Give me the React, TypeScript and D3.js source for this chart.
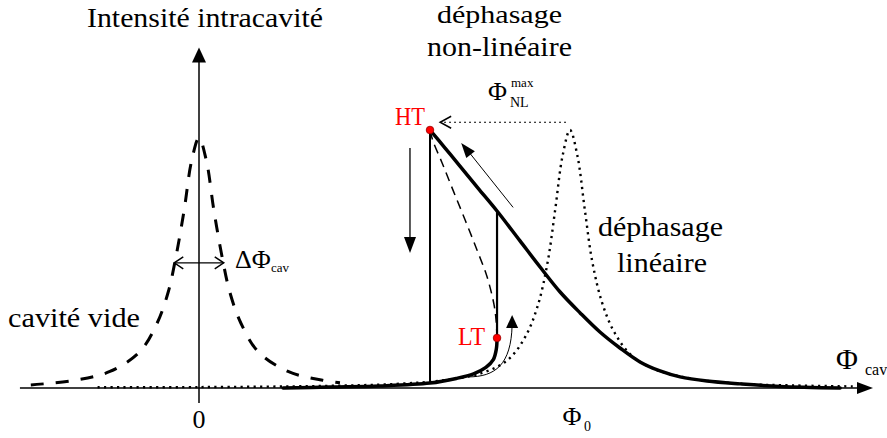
import React from 'react';
import * as d3 from 'd3';

// phase in units where the cavity half-width is ~1 and Phi0 = 15
// intensity normalised to the peak of the linear resonance
const cavityX = [-6.8, -5, -3.6, -2.4, -1.7, -1.25, -0.95, -0.6, -0.3, 0, 0.3, 0.6, 0.95, 1.25, 1.7, 2.4, 3.6, 5, 5.7];
const cavityY = [0.012, 0.03, 0.064, 0.14, 0.25, 0.37, 0.5, 0.69, 0.88, 0.97, 0.88, 0.69, 0.5, 0.37, 0.25, 0.14, 0.064, 0.03, 0.02];

const linearX = [-4.1, 0, 5, 8, 10, 11.5, 12.5, 13.2, 13.7, 14.1, 14.4, 14.7, 15, 15.3, 15.6, 15.9, 16.3, 16.8, 17.5, 18.5, 20, 22, 24, 26.5];
const linearY = [0.003, 0.0035, 0.008, 0.016, 0.031, 0.06, 0.11, 0.2, 0.32, 0.49, 0.69, 0.9, 1.0, 0.9, 0.69, 0.49, 0.33, 0.215, 0.125, 0.07, 0.035, 0.016, 0.01, 0.006];

// bistable (tilted) response
const upperX = [9.34, 9.95, 10.55, 11.28, 12.05, 12.98, 13.79, 14.6, 15.41, 16.21, 17.02, 17.83, 18.64, 19.45, 20.54, 21.88, 23.49, 25.92];
const upperY = [1.0, 0.93, 0.86, 0.775, 0.686, 0.57, 0.469, 0.372, 0.291, 0.217, 0.155, 0.101, 0.066, 0.043, 0.027, 0.016, 0.006, 0.0];
const lowerX = [3.4, 5.3, 7.3, 9.34, 10.4, 11.1, 11.6, 11.9, 12.02, 12.05];
const lowerY = [0.0, 0.004, 0.008, 0.019, 0.037, 0.055, 0.08, 0.11, 0.15, 0.194];
const unstableX = [12.05, 12.01, 11.93, 11.65, 11.24, 10.76, 10.27, 9.83, 9.45, 9.34];
const unstableY = [0.194, 0.264, 0.322, 0.43, 0.535, 0.651, 0.767, 0.872, 0.96, 1.0];

const HT = [9.34, 1.0];
const LT = [12.05, 0.194];
const jumpDownTo = 0.019;
const jumpUpTo = 0.686;
const phiNLmax = 1.03;
const cavHalfWidth = 1.0;

const tickValues = [0, 15];

const W = 887, H = 438;
const ts: React.CSSProperties = { fontFamily: 'Liberation Serif' };

function zip(xs: number[], ys: number[]) {
  return xs.map((x, i) => [x, ys[i]] as [number, number]);
}

function head(tx: number, ty: number, ang: number, len: number, half: number, closed = true) {
  const dx = Math.cos(ang), dy = Math.sin(ang);
  const bx = tx - dx * len, by = ty - dy * len;
  const px = -dy * half, py = dx * half;
  return `M${bx + px},${by + py}L${tx},${ty}L${bx - px},${by - py}` + (closed ? 'Z' : '');
}

function T(props: any) {
  const extra = props.textLength ? { lengthAdjust: 'spacingAndGlyphs' } : {};
  return <text style={ts} {...extra} {...props} />;
}

export default function App() {
  const x = d3.scaleLinear().domain([0, 15]).range([199, 570]);
  const y = d3.scaleLinear().domain([0, 1]).range([388, 130]);

  const line = d3.line<[number, number]>()
    .x(d => x(d[0]))
    .y(d => y(d[1]))
    .curve(d3.curveCatmullRom.alpha(0.5));

  // axes
  const ax0 = x(-7.24), ax1 = x(27.25), ay = y(0);
  const vx = x(0), vy0 = y(-0.058), vy1 = y(1.32);

  // arrows
  const downX = x(8.53), downY0 = y(0.93), downY1 = y(0.523);
  const diag0 = [x(12.7), y(0.7)], diag1 = [x(10.6), y(0.95)];
  const diagAng = Math.atan2(diag1[1] - diag0[1], diag1[0] - diag0[0]);
  const cs = [x(10.88), y(0.043)], ce = [x(12.66), y(0.283)];
  const curvePath = `M${cs[0]},${cs[1]}C${cs[0] + 27},${cs[1]} ${ce[0] - 1},${cs[1] - 12} ${ce[0]},${ce[1] + 10}`;

  return (
    <svg width={W} height={H} style={{ position: 'absolute', left: 0, top: 0, background: '#fff' }}>
      {/* linear resonance (dotted) */}
      <path d={line(zip(linearX, linearY))!} fill="none" stroke="#000" strokeWidth={2.4}
        strokeDasharray="2.2 4.3" />
      {/* empty cavity (dashed) */}
      <path d={line(zip(cavityX, cavityY))!} fill="none" stroke="#000" strokeWidth={3}
        strokeDasharray="13 12" />

      {/* axes */}
      <line x1={ax0} x2={ax1 - 10} y1={ay} y2={ay} stroke="#000" strokeWidth={1.5} />
      <path d={head(ax1, ay, 0, 16, 6)} fill="#000" />
      <line x1={vx} x2={vx} y1={vy0} y2={vy1 + 10} stroke="#000" strokeWidth={1.5} />
      <path d={head(vx, vy1, -Math.PI / 2, 15, 7)} fill="#000" />

      {/* bistable response */}
      <path d={line(zip(unstableX, unstableY))!} fill="none" stroke="#000" strokeWidth={1.5}
        strokeDasharray="9 6" />
      <line x1={x(HT[0])} x2={x(HT[0])} y1={y(HT[1])} y2={y(jumpDownTo)} stroke="#000" strokeWidth={2} />
      <line x1={x(LT[0])} x2={x(LT[0])} y1={y(LT[1])} y2={y(jumpUpTo)} stroke="#000" strokeWidth={2.2} />
      <path d={line(zip(upperX, upperY))!} fill="none" stroke="#000" strokeWidth={3.5} strokeLinecap="round" />
      <path d={line(zip(lowerX, lowerY))!} fill="none" stroke="#000" strokeWidth={3.5} strokeLinecap="round" />

      {/* Phi_NL max arrow */}
      <line x1={x(14.84)} x2={x(9.75) + 1} y1={y(phiNLmax)} y2={y(phiNLmax)} stroke="#000" strokeWidth={1.2}
        strokeDasharray="2 3" />
      <path d={head(x(9.75), y(phiNLmax), Math.PI, 11, 6, false)} fill="none" stroke="#000" strokeWidth={1.5} />

      {/* cavity width arrow */}
      <line x1={x(-cavHalfWidth)} x2={x(cavHalfWidth)} y1={y(0.485)} y2={y(0.485)} stroke="#000" strokeWidth={1.2} />
      <path d={head(x(-cavHalfWidth), y(0.485), Math.PI, 9, 6, false)} fill="none" stroke="#000" strokeWidth={1.5} />
      <path d={head(x(cavHalfWidth), y(0.485), 0, 9, 6, false)} fill="none" stroke="#000" strokeWidth={1.5} />

      {/* hysteresis arrows */}
      <line x1={downX} x2={downX} y1={downY0} y2={downY1 - 12} stroke="#000" strokeWidth={1.3} />
      <path d={head(downX, downY1, Math.PI / 2, 16, 6)} fill="#000" />
      <line x1={diag0[0]} y1={diag0[1]} x2={diag1[0] + 6} y2={diag1[1] + 7} stroke="#000" strokeWidth={1} />
      <path d={head(diag1[0], diag1[1], diagAng, 15, 5.5)} fill="#000" />
      <path d={curvePath} fill="none" stroke="#000" strokeWidth={1} />
      <path d={head(ce[0], ce[1], -Math.PI / 2, 13, 6)} fill="#000" />

      {/* turning points */}
      <circle cx={x(HT[0])} cy={y(HT[1])} r={3.8} fill="#f00" stroke="#900" strokeWidth={0.8} />
      <circle cx={x(LT[0])} cy={y(LT[1])} r={3.8} fill="#f00" stroke="#900" strokeWidth={0.8} />

      {/* texts */}
      <T x={87} y={27} fontSize={27} textLength={236}>Intensité intracavité</T>
      <T x={437} y={23} fontSize={26} textLength={125}>déphasage</T>
      <T x={427} y={56} fontSize={27} textLength={145}>non-linéaire</T>
      <T x={598} y={236} fontSize={27} textLength={125}>déphasage</T>
      <T x={617} y={272} fontSize={27} textLength={90}>linéaire</T>
      <T x={8} y={327} fontSize={28} textLength={132}>cavité vide</T>
      <T x={395} y={125} fontSize={26} fill="#f00" textLength={30}>HT</T>
      <T x={458} y={345} fontSize={25} fill="#f00" textLength={27}>LT</T>

      <T x={488} y={100} fontSize={26}>Φ</T>
      <T x={511} y={87} fontSize={13}>max</T>
      <T x={510} y={107} fontSize={14}>NL</T>

      <T x={235} y={268} fontSize={26}>ΔΦ</T>
      <T x={271} y={272} fontSize={13}>cav</T>

      <T x={x(tickValues[0])} y={428} fontSize={26} textAnchor="middle">0</T>
      <T x={x(tickValues[1]) + 2} y={425} fontSize={26} textAnchor="middle">Φ</T>
      <T x={x(tickValues[1]) + 14} y={431} fontSize={14}>0</T>

      <T x={836} y={369} fontSize={30}>Φ</T>
      <T x={865} y={375} fontSize={16}>cav</T>
    </svg>
  );
}
